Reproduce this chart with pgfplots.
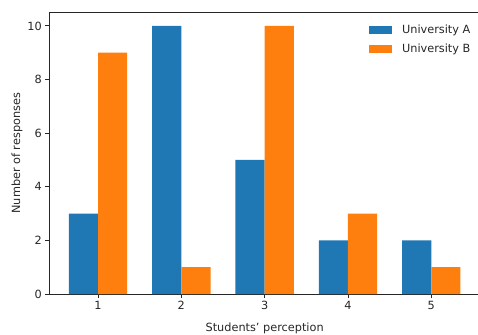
\documentclass[border=0pt]{standalone}
\usepackage{fontspec}
\setmainfont{DejaVu Sans}
\usepackage{pgfplots}
\pgfplotsset{compat=1.18}
\definecolor{tabblue}{HTML}{1F77B4}
\definecolor{taborange}{HTML}{FF7F0E}
\begin{document}
\begin{tikzpicture}[x=1pt,y=1pt]
\useasboundingbox (0,0) rectangle (478,334);
\clip (0,0) rectangle (478,334);
\begin{axis}[
  at={(49.3pt,40pt)}, anchor=south west,
  scale only axis, width=430.7pt, height=281.5pt,
  xmin=0.415, xmax=5.585, ymin=0, ymax=10.5,
  xtick={1,2,3,4,5}, ytick={0,2,4,6,8,10},
  xtick pos=bottom, ytick pos=left, tick align=outside,
  major tick length=4pt,
  axis line style={line width=0.9pt, black!85},
  every tick/.style={line width=0.9pt, black!85},
  font=\fontsize{11.3}{13}\selectfont,
  tick label style={font=\fontsize{11.3}{13}\selectfont, text=black!85},
  /pgf/number format/assume math mode=true,
  xlabel={Students' perception},
  ylabel={Number of responses},
  xlabel style={at={(axis description cs:0.5,-0.122)}, anchor=center, text=black!85},
  ylabel style={at={(axis description cs:-0.075,0.5)}, anchor=center, text=black!85},
  legend style={draw=none, fill=none, at={(axis description cs:0.742,0.962)}, anchor=north west,
    inner sep=0pt, row sep=4pt, nodes={text=black!85},
    /tikz/every odd column/.append style={column sep=8pt}},
  legend cell align=left,
  legend image code/.code={\fill[#1] (0pt,-4pt) rectangle (23pt,4pt);},
]
\addplot[ybar, bar width=0.35, bar shift=-0.175, fill=tabblue, draw=none]
  coordinates {(1,3) (2,10) (3,5) (4,2) (5,2)};
\addlegendentry{University A}
\addplot[ybar, bar width=0.35, bar shift=0.175, fill=taborange, draw=none]
  coordinates {(1,9) (2,1) (3,10) (4,3) (5,1)};
\addlegendentry{University B}
\end{axis}
\end{tikzpicture}
\end{document}
